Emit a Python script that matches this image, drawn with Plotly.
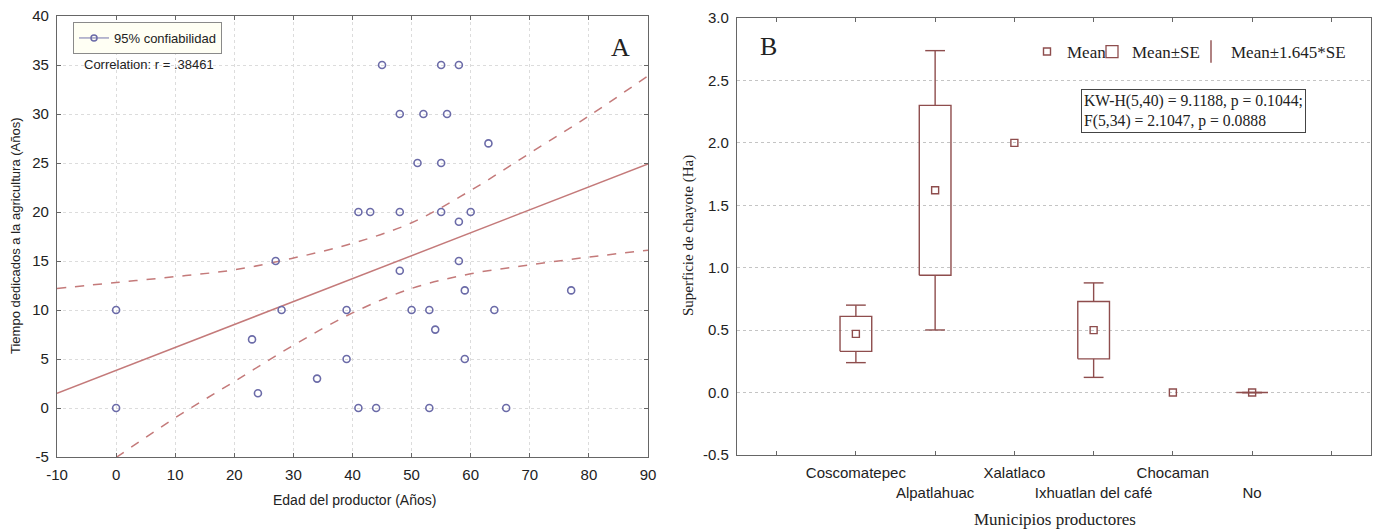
import plotly.graph_objects as go

W, H = 1373, 529

# ---------------- Panel A data ----------------
edad = [0, 0, 23, 24, 27, 28, 34, 39, 39, 41, 43, 41, 44, 45, 48, 48, 48, 50, 51,
        52, 53, 53, 54, 55, 55, 55, 56, 58, 58, 58, 59, 59, 60, 63, 64, 66, 77]
tiempo = [10, 0, 7, 1.5, 15, 10, 3, 10, 5, 20, 20, 0, 0, 35, 30, 20, 14, 10, 25,
          30, 10, 0, 8, 35, 25, 20, 30, 35, 19, 15, 12, 5, 20, 27, 10, 0, 12]
fit_x = [-10, 90]
fit_y = [1.5, 24.9]
band_x = [-10, 0, 10, 20, 30, 40, 50, 60, 70, 80, 90]
band_upper = [12.2, 12.8, 13.4, 14.1, 15.3, 16.8, 18.9, 22.2, 26.0, 29.8, 33.9]
band_lower = [-9.2, -5.05, -1.0, 2.7, 6.4, 9.7, 12.2, 13.7, 14.6, 15.4, 16.1]
x_ticks_a = [-10, 0, 10, 20, 30, 40, 50, 60, 70, 80, 90]
y_ticks_a = [-5, 0, 5, 10, 15, 20, 25, 30, 35, 40]

# ---------------- Panel B data ----------------
municipios = ["Coscomatepec", "Alpatlahuac", "Xalatlaco",
              "Ixhuatlan del café", "Chocaman", "No"]
media = [0.47, 1.62, 2.0, 0.50, 0.0, 0.0]
error_std = [0.14, 0.68, None, 0.23, None, 0.0]
y_ticks_b = [-0.5, 0.0, 0.5, 1.0, 1.5, 2.0, 2.5, 3.0]

SANS = "Liberation Sans, Arial, sans-serif"
SERIF = "Liberation Serif, Times New Roman, serif"
TXT = "#222222"
AXC = "#666666"
PT = "#6b6ba8"
REG = "#c47a7a"
BRN = "#8e4d4d"

fig = go.Figure()

# ---------- Panel A ----------
fig.add_trace(go.Scatter(x=band_x, y=band_upper, mode="lines", line=dict(color=REG, width=1.5, dash="dash", shape="spline"),
                         xaxis="x", yaxis="y", showlegend=False, hoverinfo="skip"))
fig.add_trace(go.Scatter(x=band_x, y=band_lower, mode="lines", line=dict(color=REG, width=1.5, dash="dash", shape="spline"),
                         xaxis="x", yaxis="y", showlegend=False, hoverinfo="skip"))
fig.add_trace(go.Scatter(x=fit_x, y=fit_y, mode="lines", line=dict(color=REG, width=1.5),
                         xaxis="x", yaxis="y", showlegend=False))
fig.add_trace(go.Scatter(x=edad, y=tiempo, mode="markers",
                         marker=dict(symbol="circle-open", size=7, color=PT, line=dict(width=1.6)),
                         xaxis="x", yaxis="y", showlegend=False))
fig.add_trace(go.Scatter(x=[None], y=[None], mode="lines+markers", name="95% confiabilidad",
                         line=dict(color="#8a8ab8", width=1.2),
                         marker=dict(symbol="circle-open", size=6, color=PT, line=dict(width=1.5)),
                         xaxis="x", yaxis="y", legend="legend"))

# ---------- Panel B ----------
pos = list(range(1, len(municipios) + 1))
half_box = 0.2
cap = 0.125
bx, by, wx, wy = [], [], [], []
for c, m, s in zip(pos, media, error_std):
    if s is None:
        continue
    lo, hi = m - s, m + s
    wlo, whi = m - 1.645 * s, m + 1.645 * s
    bx += [c - half_box, c + half_box, c + half_box, c - half_box, c - half_box, None]
    by += [lo, lo, hi, hi, lo, None]
    wx += [c, c, None, c - cap, c + cap, None, c, c, None, c - cap, c + cap, None]
    wy += [hi, whi, None, whi, whi, None, lo, wlo, None, wlo, wlo, None]

fig.add_trace(go.Scatter(x=bx, y=by, mode="lines", line=dict(color=BRN, width=1.4),
                         xaxis="x2", yaxis="y2", showlegend=False))
fig.add_trace(go.Scatter(x=wx, y=wy, mode="lines", line=dict(color=BRN, width=1.4),
                         xaxis="x2", yaxis="y2", showlegend=False))
fig.add_trace(go.Scatter(x=pos, y=media, mode="markers", name="Mean",
                         marker=dict(symbol="square-open", size=7, color=BRN, line=dict(width=1.4)),
                         xaxis="x2", yaxis="y2", legend="legend2"))
fig.add_trace(go.Bar(x=[None], y=[None], name="Mean±SE",
                     marker=dict(color="rgba(255,255,255,0)", line=dict(color=BRN, width=1.3)),
                     xaxis="x2", yaxis="y2", legend="legend3"))
fig.add_trace(go.Scatter(x=[None], y=[None], mode="markers", name="Mean±1.645*SE",
                         marker=dict(symbol="line-ns-open", size=16, color=BRN, line=dict(width=1.4, color=BRN)),
                         xaxis="x2", yaxis="y2", legend="legend4"))

tick_text_b = [""] + [("" if i % 2 == 0 else "<br>") + n for i, n in enumerate(municipios)] + [""]


def px_x(p):
    return p / W


def px_y(p):
    return 1 - p / H


def fmt(v, nd=0):
    return f"{v:.{nd}f}"


axis_common = dict(showline=True, linecolor=AXC, linewidth=1.3, mirror="allticks",
                   ticklen=4, tickcolor=AXC, zeroline=False, automargin=False, tickangle=0,
                   ticklabelstandoff=4,
                   tickfont=dict(family=SANS, size=15, color=TXT))


def leg_b(xpx):
    return dict(x=px_x(xpx), y=px_y(52), xanchor="left", yanchor="middle", orientation="h",
                bgcolor="rgba(0,0,0,0)", font=dict(family=SERIF, size=17, color=TXT),
                itemwidth=30)


fig.update_layout(
    width=W, height=H,
    margin=dict(l=0, r=0, t=0, b=0, autoexpand=False),
    paper_bgcolor="white", plot_bgcolor="white",
    xaxis=dict(domain=[px_x(57), px_x(648)], range=[-10, 90], tickvals=x_ticks_a,
               ticktext=[fmt(v) for v in x_ticks_a], ticks="inside",
               showgrid=True, gridcolor="#dcdcdc", griddash="dot", anchor="y", **axis_common),
    yaxis=dict(domain=[px_y(457), px_y(16)], range=[-5, 40], tickvals=y_ticks_a,
               ticktext=[fmt(v) for v in y_ticks_a], ticks="inside",
               showgrid=True, gridcolor="#dcdcdc", griddash="dot", anchor="x", **axis_common),
    xaxis2=dict(domain=[px_x(737), px_x(1371)], range=[-0.5, 7.5],
                tickvals=list(range(0, len(municipios) + 2)), ticktext=tick_text_b, ticks="inside",
                showgrid=False, anchor="y2", **axis_common),
    yaxis2=dict(domain=[px_y(455), px_y(18)], range=[-0.5, 3.0], tickvals=y_ticks_b,
                ticktext=[fmt(v, 1) for v in y_ticks_b], ticks="",
                showgrid=True, gridcolor="#c4c4c4", griddash="dot", anchor="x2", **axis_common),
    legend=dict(x=px_x(73), y=px_y(22), xanchor="left", yanchor="top",
                bgcolor="#fffff4", bordercolor="#8a8a8a", borderwidth=1,
                font=dict(family=SANS, size=13, color=TXT)),
    legend2=leg_b(1027),
    legend3=leg_b(1092),
    legend4=leg_b(1191),
    showlegend=True,
    annotations=[
        dict(text="Correlation: r = .38461", x=px_x(82), y=px_y(65), xref="paper", yref="paper",
             xanchor="left", yanchor="middle", showarrow=False, font=dict(family=SANS, size=13, color=TXT)),
        dict(text="A", x=px_x(620), y=px_y(48), xref="paper", yref="paper", xanchor="center", yanchor="middle",
             showarrow=False, font=dict(family=SERIF, size=26, color=TXT)),
        dict(text="B", x=px_x(769), y=px_y(47), xref="paper", yref="paper", xanchor="center", yanchor="middle",
             showarrow=False, font=dict(family=SERIF, size=26, color=TXT)),
        dict(text="Tiempo dedicados a la agricultura (Años)", x=px_x(15), y=px_y(236),
             xref="paper", yref="paper", xanchor="center", yanchor="middle", textangle=-90, showarrow=False,
             font=dict(family=SANS, size=13, color=TXT)),
        dict(text="Edad del productor (Años)", x=px_x(354), y=px_y(500), xanchor="center", yanchor="middle",
             xref="paper", yref="paper", showarrow=False, font=dict(family=SANS, size=14, color=TXT)),
        dict(text="Superficie de chayote (Ha)", x=px_x(688), y=px_y(236), xanchor="center", yanchor="middle",
             xref="paper", yref="paper", textangle=-90, showarrow=False,
             font=dict(family=SERIF, size=15, color=TXT)),
        dict(text="Municipios productores", x=px_x(1055), y=px_y(519), xanchor="center", yanchor="middle",
             xref="paper", yref="paper", showarrow=False, font=dict(family=SERIF, size=17, color=TXT)),
        dict(text="KW-H(5,40) = 9.1188, p = 0.1044;<br>F(5,34) = 2.1047, p = 0.0888",
             x=px_x(1081), y=px_y(89), xref="paper", yref="paper", xanchor="left", yanchor="top",
             align="left", showarrow=False, bordercolor="#444444", borderwidth=1, borderpad=2,
             bgcolor="white", font=dict(family=SERIF, size=15.7, color=TXT)),
    ],
)

fig.write_html("out.html")
